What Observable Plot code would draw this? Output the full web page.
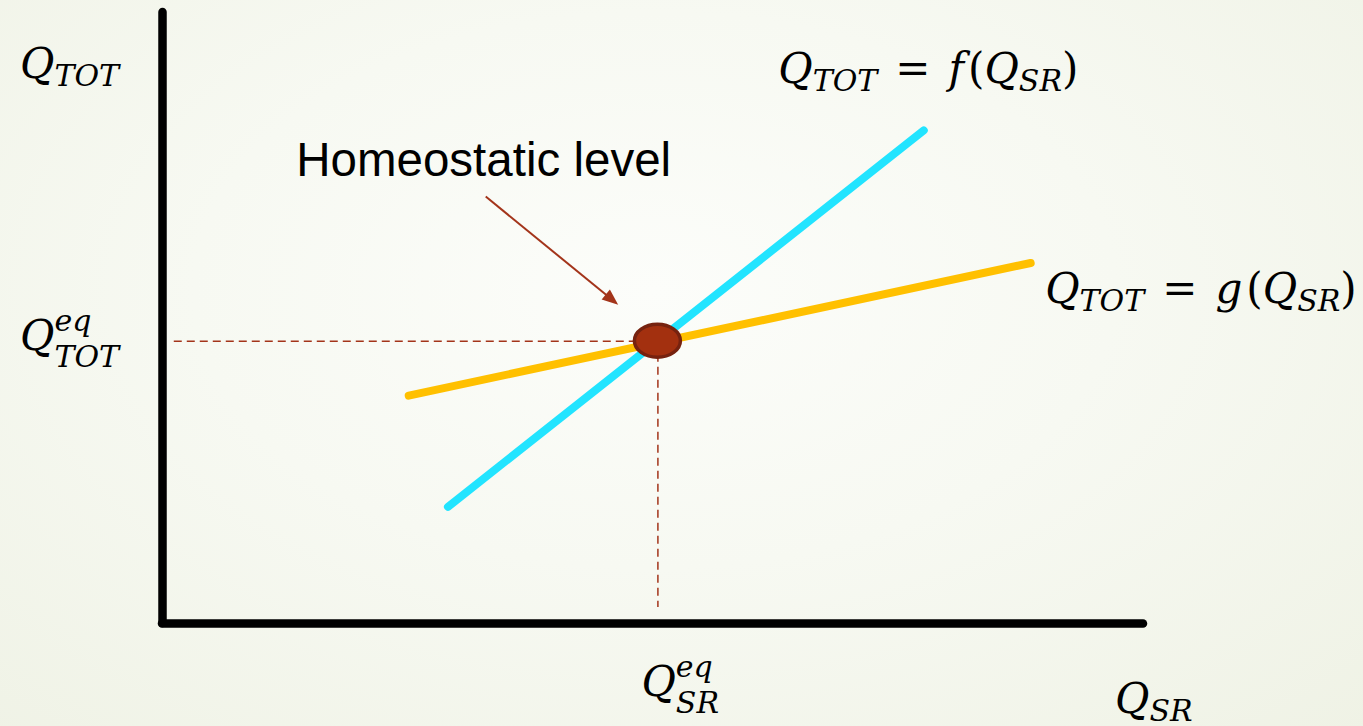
<!DOCTYPE html>
<html>
<head>
<meta charset="utf-8">
<script src="https://cdn.jsdelivr.net/npm/d3@7"></script>
<script src="https://cdn.jsdelivr.net/npm/@observablehq/plot@0.6"></script>
<style>
  html, body { margin: 0; padding: 0; }
  body {
    width: 1363px; height: 726px; overflow: hidden;
    background: radial-gradient(ellipse 75% 85% at 48% 40%, #fcfdfa 0%, #f7f9f2 45%, #eff2e5 100%);
  }
  #chart svg { display: block; }
</style>
</head>
<body>
<div id="chart"></div>
<script>
// Quantities in arbitrary units; the origin is the corner of the two axes.
const axisDomain = [0, 10];

// Q_TOT = f(Q_SR): the steep curve
const curveF = [
  { qsr: 2.91, qtot: 1.91 },
  { qsr: 7.76, qtot: 8.07 }
];

// Q_TOT = g(Q_SR): the shallow curve
const curveG = [
  { qsr: 2.51, qtot: 3.73 },
  { qsr: 8.85, qtot: 5.90 }
];

// Where the two curves cross: the homeostatic level
const equilibrium = [{ qsr: 5.05, qtot: 4.62 }];

// Annotation pointer, from its label towards the crossing point
const pointer = [{ x1: 3.30, y1: 6.98, x2: 4.65, y2: 5.21 }];
const pointerText = ["Homeostatic level"];

// Math labels as tokens: base with optional sub/superscript, operators, function names
const labelAxisY = [{ base: "Q", sub: "TOT" }];
const labelAxisX = [{ base: "Q", sub: "SR" }];
const labelEqY = [{ base: "Q", sub: "TOT", sup: "eq" }];
const labelEqX = [{ base: "Q", sub: "SR", sup: "eq" }];
const labelF = [{ base: "Q", sub: "TOT" }, { op: "=" }, { fn: "f" }, { op: "(" }, { base: "Q", sub: "SR" }, { op: ")" }];
const labelG = [{ base: "Q", sub: "TOT" }, { op: "=" }, { fn: "g" }, { op: "(" }, { base: "Q", sub: "SR" }, { op: ")" }];

const CYAN = "#22e4ff";
const GOLD = "#ffc000";
const BROWN = "#a3341a";
const SERIF = "'DejaVu Serif', serif";
const BASE = 42, SMALL = 30;

const measureCtx = document.createElement("canvas").getContext("2d");
function measure(s, size, italic) {
  measureCtx.font = `${italic ? "italic " : ""}${size}px ${SERIF}`;
  return measureCtx.measureText(s).width;
}

// A text mark laid out as a small formula, starting at (x, y) plus a pixel offset
function mathLabel(tokens, x, y, dx, dy) {
  const plain = tokens.map(t => t.base ? t.base + (t.sup ?? "") + (t.sub ?? "") : (t.op ?? t.fn)).join("");
  return Plot.text([plain], {
    x: () => x,
    y: () => y,
    text: d => d,
    render(index, scales, values) {
      const px = values.x[0] + dx, py = values.y[0] + dy;
      const g = d3.create("svg:g");
      const text = g.append("text")
        .attr("font-family", SERIF).attr("fill", "#000").attr("text-anchor", "start");
      const span = (s, size, italic, sx, sy) =>
        text.append("tspan").attr("x", sx).attr("y", sy)
          .attr("font-size", size).attr("font-style", italic ? "italic" : "normal").text(s);
      let cx = px;
      tokens.forEach(t => {
        if (t.base) {
          span(t.base, BASE, true, cx, py);
          cx += measure(t.base, BASE, true);
          let w = 0;
          if (t.sup) {
            span(t.sup, SMALL, true, cx, py - (t.sub ? 19 : 16));
            w = Math.max(w, measure(t.sup, SMALL, true));
          }
          if (t.sub) {
            span(t.sub, SMALL, true, cx, py + (t.sup ? 17 : 8));
            w = Math.max(w, measure(t.sub, SMALL, true));
          }
          cx += w;
        } else if (t.fn) {
          span(t.fn, BASE, true, cx, py);
          cx += measure(t.fn, BASE, true) + 4;
        } else if (t.op === "=") {
          cx += 18;
          span("=", BASE, false, cx, py);
          cx += measure("=", BASE, false) + 18;
        } else {
          span(t.op, BASE, false, cx, py);
          cx += measure(t.op, BASE, false);
        }
      });
      return g.node();
    }
  });
}

const plot = Plot.plot({
  width: 1363,
  height: 726,
  marginLeft: 162,
  marginRight: 220,
  marginTop: 12,
  marginBottom: 103,
  x: { domain: axisDomain, axis: null },
  y: { domain: axisDomain, axis: null },
  style: { background: "transparent", overflow: "visible" },
  marks: [
    // dashed guides from the crossing point to both axes
    Plot.ruleY(equilibrium, { y: "qtot", x1: 0.12, x2: "qsr", stroke: BROWN, strokeWidth: 1.5, strokeDasharray: "8,5" }),
    Plot.ruleX(equilibrium, { x: "qsr", y1: "qtot", y2: 0.26, stroke: BROWN, strokeWidth: 1.5, strokeDasharray: "8,5" }),

    // axes
    Plot.ruleX([0], { stroke: "#000", strokeWidth: 8.5, strokeLinecap: "round" }),
    Plot.ruleY([0], { stroke: "#000", strokeWidth: 8.5, strokeLinecap: "round" }),

    // the two relations
    Plot.line(curveF, { x: "qsr", y: "qtot", stroke: CYAN, strokeWidth: 8, strokeLinecap: "round" }),
    Plot.line(curveG, { x: "qsr", y: "qtot", stroke: GOLD, strokeWidth: 8, strokeLinecap: "round" }),

    // the homeostatic point, drawn as an ellipse
    Plot.dot(equilibrium, {
      x: "qsr",
      y: "qtot",
      render(index, scales, values) {
        const g = d3.create("svg:g");
        for (const i of index) {
          g.append("ellipse")
            .attr("cx", values.x[i]).attr("cy", values.y[i])
            .attr("rx", 23).attr("ry", 16.5)
            .attr("fill", "#a3300f").attr("stroke", "#76220f").attr("stroke-width", 3.5);
        }
        return g.node();
      }
    }),

    // pointer with a filled head
    Plot.link(pointer, {
      x1: "x1", y1: "y1", x2: "x2", y2: "y2",
      stroke: BROWN,
      render(index, scales, values) {
        const g = d3.create("svg:g");
        for (const i of index) {
          const x1 = values.x1[i], y1 = values.y1[i], x2 = values.x2[i], y2 = values.y2[i];
          const a = Math.atan2(y2 - y1, x2 - x1), c = Math.cos(a), s = Math.sin(a);
          const L = 16, W = 6.5;
          const bx = x2 - L * c, by = y2 - L * s;
          g.append("line").attr("x1", x1).attr("y1", y1).attr("x2", bx + 2 * c).attr("y2", by + 2 * s)
            .attr("stroke", BROWN).attr("stroke-width", 2);
          g.append("path")
            .attr("d", `M${x2},${y2}L${bx - W * s},${by + W * c}L${bx + W * s},${by - W * c}Z`)
            .attr("fill", BROWN);
        }
        return g.node();
      }
    }),

    Plot.text(pointerText, {
      x: pointer[0].x1, y: pointer[0].y1, dx: -190, dy: -21,
      textAnchor: "start", lineAnchor: "bottom",
      fontFamily: "'Liberation Sans', Arial, sans-serif", fontSize: 47.5, fill: "#000"
    }),

    // formula labels
    mathLabel(labelAxisY, 0, 10, -142, 66),
    mathLabel(labelEqY, 0, equilibrium[0].qtot, -142, 9),
    mathLabel(labelEqX, equilibrium[0].qsr, 0, -16, 73),
    mathLabel(labelAxisX, 10, 0, -28, 90),
    mathLabel(labelF, curveF[1].qsr, curveF[1].qtot, -145, -47),
    mathLabel(labelG, curveG[1].qsr, curveG[1].qtot, 15, 40)
  ]
});

document.getElementById("chart").append(plot);
</script>
</body>
</html>
